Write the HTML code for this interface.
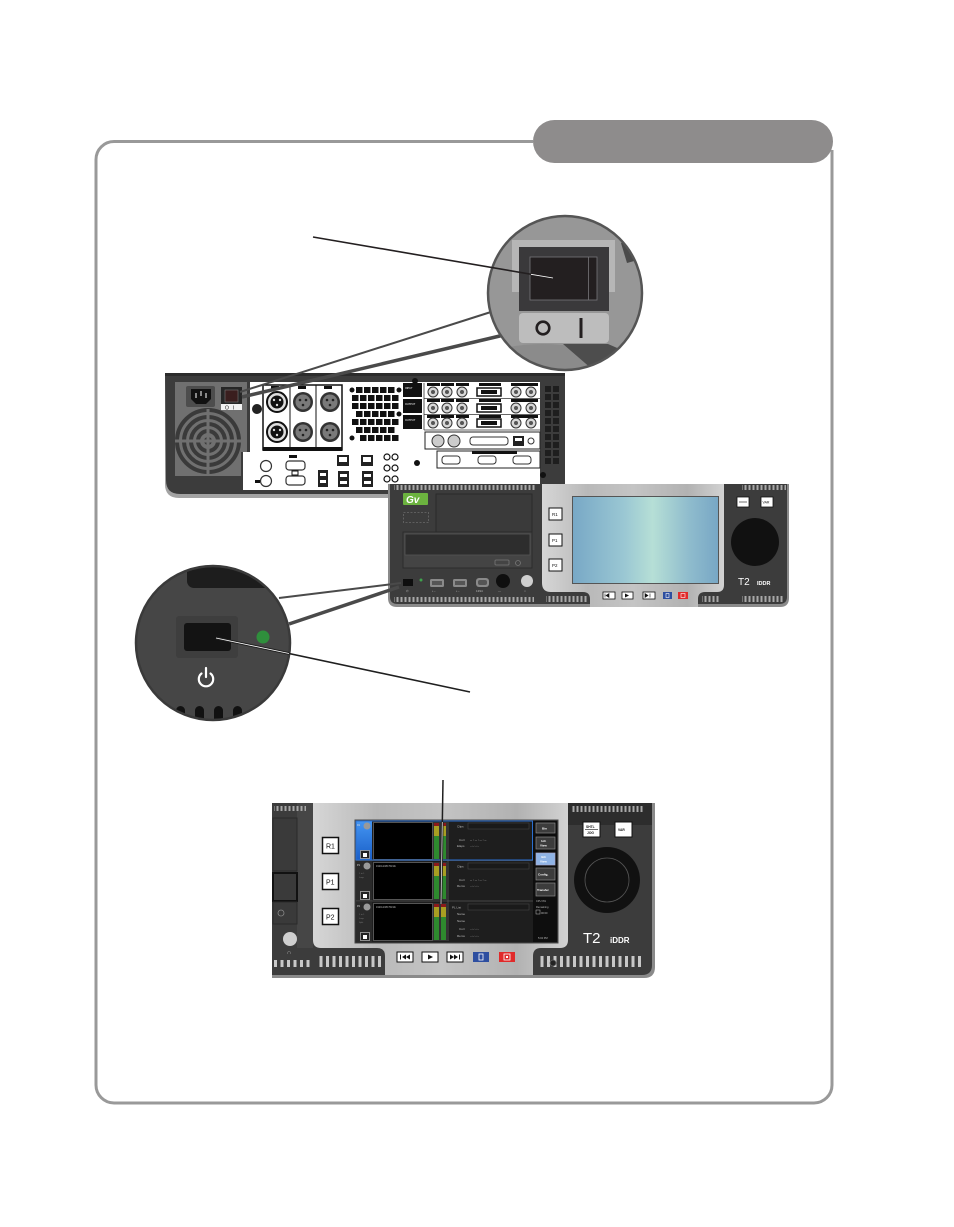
<!DOCTYPE html>
<html><head><meta charset="utf-8"><style>
html,body{margin:0;padding:0;background:#fff;width:954px;height:1227px;overflow:hidden}
svg{display:block}
text{font-family:"Liberation Sans",sans-serif}
</style></head><body>
<svg width="954" height="1227" viewBox="0 0 954 1227" xmlns="http://www.w3.org/2000/svg">
<defs>
 <pattern id="v1" width="4" height="10" patternUnits="userSpaceOnUse"><rect x="0.5" width="2" height="10" fill="#a8a8a8"/></pattern>
 <pattern id="v2" width="6.5" height="20" patternUnits="userSpaceOnUse"><rect x="1" width="3" height="20" fill="#c8c8c8"/></pattern>
 <linearGradient id="silver" x1="0" x2="1" y1="0" y2="0">
  <stop offset="0" stop-color="#d6d6d6"/><stop offset="0.25" stop-color="#b9b9b9"/><stop offset="0.5" stop-color="#c4c4c4"/><stop offset="0.8" stop-color="#b2b2b2"/><stop offset="1" stop-color="#d2d2d2"/>
 </linearGradient>
 <linearGradient id="scr" x1="0" x2="1" y1="0" y2="0">
  <stop offset="0" stop-color="#78a8c6"/><stop offset="0.35" stop-color="#9ac7d3"/><stop offset="0.55" stop-color="#b6dfd6"/><stop offset="0.8" stop-color="#8fbccd"/><stop offset="1" stop-color="#78a7c5"/>
 </linearGradient>
 <linearGradient id="blue" x1="0" x2="0" y1="0" y2="1">
  <stop offset="0" stop-color="#4495f2"/><stop offset="1" stop-color="#1a5fc8"/>
 </linearGradient>
 <clipPath id="c1"><circle cx="565" cy="293" r="76.5"/></clipPath>
 <clipPath id="c2"><circle cx="213" cy="643" r="76"/></clipPath>
</defs>

<!-- Frame -->
<path d="M533 141.5 H114 A18 18 0 0 0 96 159.5 V1085 A18 18 0 0 0 114 1103 H814 A18 18 0 0 0 832 1085 V150" fill="none" stroke="#999" stroke-width="3"/>
<rect x="533" y="120" width="300" height="43" rx="21.5" fill="#8e8c8c"/>

<!-- ============ REAR PANEL ============ -->
<path d="M165 373 H565 V498 H179 Q165 498 165 484 Z" fill="#a3a3a3"/>
<path d="M165 373 H565 V494 H180 Q166 494 166 480 Z" fill="#3c3c3c"/>
<rect x="165" y="373" width="400" height="3" fill="#2c2c2c"/>
<!-- PSU plate -->
<path d="M175 382 H247 V452 H241 V476 H175 Z" fill="#707070"/>
<g fill="none" stroke="#3a3a3a" stroke-width="4">
 <circle cx="208" cy="441" r="31"/><circle cx="208" cy="441" r="24"/><circle cx="208" cy="441" r="17"/><circle cx="208" cy="441" r="10"/>
</g>
<circle cx="208" cy="441" r="4" fill="#3a3a3a"/>
<g stroke="#707070" stroke-width="3"><line x1="175" y1="441" x2="241" y2="441"/><line x1="208" y1="409" x2="208" y2="474"/></g>
<rect x="186" y="386" width="29" height="21" rx="2" fill="#4d4d4d"/>
<path d="M191 389 H211 V399 L206 404 H196 L191 399 Z" fill="#111"/>
<g fill="#888"><rect x="195" y="393" width="2" height="5"/><rect x="200" y="391" width="2" height="5"/><rect x="205" y="393" width="2" height="5"/></g>
<rect x="221" y="387" width="21" height="17" fill="#262626"/>
<rect x="225" y="390" width="13" height="12" fill="#3a1e1e" stroke="#777" stroke-width="0.6"/>
<rect x="221" y="404" width="21" height="6" fill="#f2f2f2"/>
<text x="225" y="409.5" font-size="5" fill="#111">O</text><text x="233" y="409.5" font-size="5" fill="#111">I</text>
<!-- white area -->
<path d="M252 382 H540 V490 H243 V452 H250 V382 Z" fill="#fff"/>
<circle cx="257" cy="409" r="5" fill="#222"/>
<!-- audio block -->
<rect x="263" y="385" width="79" height="65" fill="#fff" stroke="#111" stroke-width="1.5"/>
<line x1="290" y1="385" x2="290" y2="450" stroke="#111"/><line x1="316" y1="385" x2="316" y2="450" stroke="#111"/>
<rect x="263" y="447" width="79" height="4" fill="#111"/>
<g fill="#111"><rect x="271" y="386" width="8" height="3"/><rect x="298" y="386" width="8" height="3"/><rect x="324" y="386" width="8" height="3"/></g>
<g>
 <circle cx="277" cy="402" r="10" fill="#ddd" stroke="#111" stroke-width="2"/><circle cx="277" cy="402" r="6.5" fill="#111"/>
 <circle cx="277" cy="432" r="10" fill="#ddd" stroke="#111" stroke-width="2"/><circle cx="277" cy="432" r="6.5" fill="#111"/>
 <circle cx="303" cy="402" r="10" fill="#333"/><circle cx="303" cy="402" r="7.5" fill="#7a7a7a"/>
 <circle cx="303" cy="432" r="10" fill="#333"/><circle cx="303" cy="432" r="7.5" fill="#7a7a7a"/>
 <circle cx="330" cy="402" r="10" fill="#333"/><circle cx="330" cy="402" r="7.5" fill="#7a7a7a"/>
 <circle cx="330" cy="432" r="10" fill="#333"/><circle cx="330" cy="432" r="7.5" fill="#7a7a7a"/>
 <g fill="#222"><circle cx="300" cy="400" r="1.3"/><circle cx="306" cy="400" r="1.3"/><circle cx="303" cy="405" r="1.3"/><circle cx="300" cy="430" r="1.3"/><circle cx="306" cy="430" r="1.3"/><circle cx="303" cy="435" r="1.3"/><circle cx="327" cy="400" r="1.3"/><circle cx="333" cy="400" r="1.3"/><circle cx="330" cy="405" r="1.3"/><circle cx="327" cy="430" r="1.3"/><circle cx="333" cy="430" r="1.3"/><circle cx="330" cy="435" r="1.3"/></g>
 <g fill="#ddd"><circle cx="274" cy="400" r="1.2"/><circle cx="280" cy="400" r="1.2"/><circle cx="277" cy="405" r="1.2"/><circle cx="274" cy="430" r="1.2"/><circle cx="280" cy="430" r="1.2"/><circle cx="277" cy="435" r="1.2"/></g>
</g>
<!-- vent grid -->
<g fill="#111">
 <rect x="356" y="387" width="6.5" height="6"/><rect x="364" y="387" width="6.5" height="6"/><rect x="372" y="387" width="6.5" height="6"/><rect x="380" y="387" width="6.5" height="6"/><rect x="388" y="387" width="6.5" height="6"/>
 <rect x="352" y="395" width="6.5" height="6"/><rect x="360" y="395" width="6.5" height="6"/><rect x="368" y="395" width="6.5" height="6"/><rect x="376" y="395" width="6.5" height="6"/><rect x="384" y="395" width="6.5" height="6"/><rect x="392" y="395" width="6.5" height="6"/>
 <rect x="352" y="403" width="6.5" height="6"/><rect x="360" y="403" width="6.5" height="6"/><rect x="368" y="403" width="6.5" height="6"/><rect x="376" y="403" width="6.5" height="6"/><rect x="384" y="403" width="6.5" height="6"/><rect x="392" y="403" width="6.5" height="6"/>
 <rect x="356" y="411" width="6.5" height="6"/><rect x="364" y="411" width="6.5" height="6"/><rect x="372" y="411" width="6.5" height="6"/><rect x="380" y="411" width="6.5" height="6"/><rect x="388" y="411" width="6.5" height="6"/>
 <rect x="352" y="419" width="6.5" height="6"/><rect x="360" y="419" width="6.5" height="6"/><rect x="368" y="419" width="6.5" height="6"/><rect x="376" y="419" width="6.5" height="6"/><rect x="384" y="419" width="6.5" height="6"/><rect x="392" y="419" width="6.5" height="6"/>
 <rect x="356" y="427" width="6.5" height="6"/><rect x="364" y="427" width="6.5" height="6"/><rect x="372" y="427" width="6.5" height="6"/><rect x="380" y="427" width="6.5" height="6"/><rect x="388" y="427" width="6.5" height="6"/>
 <rect x="360" y="435" width="6.5" height="6"/><rect x="368" y="435" width="6.5" height="6"/><rect x="376" y="435" width="6.5" height="6"/><rect x="384" y="435" width="6.5" height="6"/><rect x="392" y="435" width="6.5" height="6"/>
 <circle cx="352" cy="390" r="2.5"/><circle cx="399" cy="390" r="2.5"/><circle cx="352" cy="438" r="2.5"/><circle cx="399" cy="414" r="2.5"/>
 <circle cx="415" cy="381" r="3"/><circle cx="417" cy="463" r="3"/><circle cx="543" cy="475" r="3"/>
</g>
<!-- IO section -->
<g fill="#111">
 <rect x="403" y="383" width="19" height="14"/><rect x="403" y="399" width="19" height="14"/><rect x="403" y="415" width="19" height="14"/>
 <rect x="427" y="383" width="13" height="3"/><rect x="441" y="383" width="13" height="3"/><rect x="456" y="383" width="13" height="3"/><rect x="479" y="383" width="22" height="3"/><rect x="511" y="383" width="27" height="3"/>
 <rect x="427" y="399" width="13" height="3"/><rect x="441" y="399" width="13" height="3"/><rect x="456" y="399" width="13" height="3"/><rect x="479" y="399" width="22" height="3"/><rect x="511" y="399" width="27" height="3"/>
 <rect x="427" y="415" width="13" height="3"/><rect x="441" y="415" width="13" height="3"/><rect x="456" y="415" width="13" height="3"/><rect x="479" y="415" width="22" height="3"/><rect x="511" y="415" width="27" height="3"/>
</g>
<g fill="#fff" font-size="2.5"><text x="405" y="389">INPUT</text><text x="405" y="405">OUTPUT</text><text x="405" y="421">OUTPUT</text></g>
<g stroke="#333" stroke-width="1" fill="#d8d8d8">
 <circle cx="433" cy="392" r="5"/><circle cx="447" cy="392" r="5"/><circle cx="462" cy="392" r="5"/><circle cx="516" cy="392" r="5"/><circle cx="531" cy="392" r="5"/>
 <circle cx="433" cy="408" r="5"/><circle cx="447" cy="408" r="5"/><circle cx="462" cy="408" r="5"/><circle cx="516" cy="408" r="5"/><circle cx="531" cy="408" r="5"/>
 <circle cx="433" cy="423" r="5"/><circle cx="447" cy="423" r="5"/><circle cx="462" cy="423" r="5"/><circle cx="516" cy="423" r="5"/><circle cx="531" cy="423" r="5"/>
</g>
<g fill="#555">
 <circle cx="433" cy="392" r="2"/><circle cx="447" cy="392" r="2"/><circle cx="462" cy="392" r="2"/><circle cx="516" cy="392" r="2"/><circle cx="531" cy="392" r="2"/>
 <circle cx="433" cy="408" r="2"/><circle cx="447" cy="408" r="2"/><circle cx="462" cy="408" r="2"/><circle cx="516" cy="408" r="2"/><circle cx="531" cy="408" r="2"/>
 <circle cx="433" cy="423" r="2"/><circle cx="447" cy="423" r="2"/><circle cx="462" cy="423" r="2"/><circle cx="516" cy="423" r="2"/><circle cx="531" cy="423" r="2"/>
</g>
<g fill="#fff" stroke="#111" stroke-width="1.5">
 <rect x="477" y="388" width="24" height="8"/><rect x="477" y="404" width="24" height="8"/><rect x="477" y="419" width="24" height="8"/>
</g>
<g fill="#111"><rect x="481" y="390" width="16" height="4"/><rect x="481" y="406" width="16" height="4"/><rect x="481" y="421" width="16" height="4"/></g>
<g stroke="#333" stroke-width="0.8"><line x1="424" y1="398.5" x2="540" y2="398.5"/><line x1="424" y1="414.5" x2="540" y2="414.5"/><line x1="424" y1="430" x2="540" y2="430"/><line x1="424" y1="383" x2="424" y2="430"/></g>
<rect x="425" y="432" width="115" height="17" fill="#fff" stroke="#222"/>
<g stroke="#333" fill="#ccc"><circle cx="438" cy="441" r="6"/><circle cx="454" cy="441" r="6"/></g>
<rect x="470" y="437" width="38" height="8" rx="3" fill="#fff" stroke="#333"/>
<rect x="513" y="436" width="11" height="10" fill="#222"/><rect x="515" y="438" width="7" height="3" fill="#fff"/>
<circle cx="531" cy="441" r="3" fill="#fff" stroke="#333"/>
<rect x="437" y="451" width="103" height="17" fill="#fff" stroke="#222"/>
<rect x="472" y="451" width="45" height="3" fill="#111"/>
<g fill="#fff" stroke="#333"><rect x="442" y="456" width="18" height="8" rx="3"/><rect x="478" y="456" width="18" height="8" rx="3"/><rect x="513" y="456" width="18" height="8" rx="3"/></g>
<!-- bottom left connectors -->
<g fill="#fff" stroke="#333" stroke-width="1.2"><circle cx="266" cy="466" r="5.5"/><circle cx="266" cy="481" r="5.5"/><rect x="286" y="461" width="19" height="9" rx="3"/><rect x="286" y="476" width="19" height="9" rx="3"/></g>
<g fill="#111"><rect x="255" y="480" width="5" height="3"/><rect x="289" y="455" width="8" height="3"/><rect x="292" y="471" width="6" height="4" fill="none" stroke="#111"/></g>
<rect x="318" y="470" width="10" height="17" fill="#222"/><rect x="320" y="473" width="6" height="3" fill="#fff"/><rect x="320" y="480" width="6" height="3" fill="#fff"/>
<g fill="#222"><rect x="337" y="455" width="12" height="11"/><rect x="361" y="455" width="12" height="11"/><rect x="338" y="471" width="11" height="16"/><rect x="362" y="471" width="11" height="16"/></g>
<g fill="#fff"><rect x="339" y="457" width="8" height="5"/><rect x="363" y="457" width="8" height="5"/><rect x="340" y="474" width="7" height="3"/><rect x="340" y="481" width="7" height="3"/><rect x="364" y="474" width="7" height="3"/><rect x="364" y="481" width="7" height="3"/></g>
<g fill="#fff" stroke="#111" stroke-width="1.2"><circle cx="387" cy="457" r="3"/><circle cx="395" cy="457" r="3"/><circle cx="387" cy="468" r="3"/><circle cx="395" cy="468" r="3"/><circle cx="387" cy="479" r="3"/><circle cx="395" cy="479" r="3"/></g>
<!-- right strip squares -->
<g fill="#1e1e1e">
 <rect x="545" y="386" width="6" height="6"/><rect x="553" y="386" width="6" height="6"/><rect x="545" y="394" width="6" height="6"/><rect x="553" y="394" width="6" height="6"/><rect x="545" y="402" width="6" height="6"/><rect x="553" y="402" width="6" height="6"/><rect x="545" y="410" width="6" height="6"/><rect x="553" y="410" width="6" height="6"/><rect x="545" y="418" width="6" height="6"/><rect x="553" y="418" width="6" height="6"/><rect x="545" y="426" width="6" height="6"/><rect x="553" y="426" width="6" height="6"/><rect x="545" y="434" width="6" height="6"/><rect x="553" y="434" width="6" height="6"/><rect x="545" y="442" width="6" height="6"/><rect x="553" y="442" width="6" height="6"/><rect x="545" y="450" width="6" height="6"/><rect x="553" y="450" width="6" height="6"/><rect x="545" y="458" width="6" height="6"/><rect x="553" y="458" width="6" height="6"/>
</g>

<!-- lines from rear switch to top circle -->
<line x1="240" y1="392" x2="494" y2="311" stroke="#4a4a4a" stroke-width="2"/>
<line x1="242" y1="397" x2="504" y2="335" stroke="#4a4a4a" stroke-width="3.5"/>

<!-- ============ TOP ZOOM CIRCLE ============ -->
<circle cx="565" cy="293" r="77" fill="#979797"/>
<g clip-path="url(#c1)">
 <path d="M486 352 Q530 340 570 346 L640 362 L640 380 L486 380 Z" fill="#8b8b8b"/>
 <path d="M563 344 L608 344 L645 360 L640 380 L600 376 Z" fill="#4d4d4d"/>
 <path d="M621 243 L632 238 L645 258 L627 263 Z" fill="#4a4a4a"/>
 <rect x="512" y="240" width="103" height="52" fill="#b6b6b6"/>
 <rect x="519" y="247" width="90" height="64" fill="#3a393b"/>
 <rect x="530" y="257" width="67" height="43" fill="#231f20" stroke="#77767a" stroke-width="0.8"/>
 <line x1="588.5" y1="257" x2="588.5" y2="300" stroke="#77767a" stroke-width="0.8"/>
 <rect x="519" y="313" width="90" height="30" rx="4" fill="#bdbdbd"/>
 <circle cx="543" cy="328" r="6.3" fill="none" stroke="#231f20" stroke-width="2.6"/>
 <rect x="579.5" y="318" width="3" height="20" fill="#231f20"/>
</g>
<circle cx="565" cy="293" r="77" fill="none" stroke="#555" stroke-width="2.5"/>
<!-- top leader -->
<line x1="313" y1="237" x2="553" y2="278" stroke="#231f20" stroke-width="1.6"/>
<line x1="531" y1="274.3" x2="553" y2="278" stroke="#231f20" stroke-width="2.6"/>
<line x1="531" y1="274.3" x2="553" y2="278" stroke="#fff" stroke-width="0.8"/>

<!-- ============ FRONT PANEL (TOP) ============ -->
<path d="M388 484 H789 V598 Q789 607 780 607 H397 Q388 607 388 598 Z" fill="#8a8a8a"/>
<path d="M390 484 H787 V597 Q787 604 779 604 H398 Q390 604 390 597 Z" fill="#3c3c3c"/>
<path d="M542 484 H724 V585 Q724 592 717 592 H705 Q698 592 698 599 V607 H590 V599 Q590 592 583 592 H551 Q542 592 542 583 Z" fill="url(#silver)"/>
<rect x="394" y="485" width="142" height="5" fill="url(#v1)"/>
<rect x="742" y="485" width="44" height="5" fill="url(#v1)"/>
<rect x="394" y="597" width="140" height="5" fill="url(#v1)"/>
<rect x="546" y="596" width="42" height="6" fill="url(#v1)"/>
<rect x="702" y="596" width="18" height="6" fill="url(#v1)"/>
<rect x="742" y="596" width="42" height="6" fill="url(#v1)"/>
<!-- left items -->
<rect x="403" y="493" width="25" height="12" rx="1" fill="#6cb33f"/>
<text x="406" y="503" font-size="10" font-style="italic" font-weight="bold" fill="#fff" font-family="Liberation Serif, serif">Gv</text>
<rect x="403.5" y="512.5" width="25" height="10" fill="none" stroke="#6a6a6a" stroke-dasharray="2 1.5" stroke-width="0.8"/>
<rect x="436" y="494" width="96" height="38" fill="#3a3a3a" stroke="#2a2a2a"/>
<rect x="403" y="532" width="129" height="36" fill="#444" stroke="#2b2b2b"/>
<rect x="405" y="534" width="125" height="21" fill="#2d2d2d" stroke="#555" stroke-width="0.8"/>
<rect x="495" y="560" width="14" height="5" rx="1" fill="none" stroke="#777" stroke-width="0.8"/>
<circle cx="518" cy="563" r="2.5" fill="none" stroke="#777" stroke-width="0.8"/>
<rect x="403" y="579" width="10" height="7" fill="#0e0e0e"/>
<circle cx="421" cy="580" r="1.5" fill="#3fa34d"/>
<g fill="#8a8a8a"><rect x="430" y="579" width="14" height="8" rx="1.5"/><rect x="453" y="579" width="14" height="8" rx="1.5"/><rect x="476" y="578" width="13" height="9" rx="3"/></g>
<g fill="#555"><rect x="432" y="581" width="10" height="4"/><rect x="455" y="581" width="10" height="4"/><rect x="478" y="580" width="9" height="5" rx="2"/></g>
<circle cx="503" cy="581" r="7" fill="#0f0f0f"/>
<circle cx="527" cy="581" r="6" fill="#cfcfcf"/>
<g fill="#bbb" font-size="3"><text x="406" y="592">&#x23FB;</text><text x="432" y="592">&#x2022;&#x2192;</text><text x="456" y="592">&#x2022;&#x2192;</text><text x="476" y="592">1394</text><text x="498" y="592">&#x2014;</text><text x="524" y="592">&#x2229;</text></g>
<!-- R1 P1 P2 -->
<g fill="#fff" stroke="#111" stroke-width="1"><rect x="549" y="508" width="13" height="12"/><rect x="549" y="534" width="13" height="12"/><rect x="549" y="559" width="13" height="12"/></g>
<g fill="#111" font-size="4.5"><text x="552" y="516">R1</text><text x="552" y="542">P1</text><text x="552" y="567">P2</text></g>
<!-- screen -->
<rect x="572" y="496" width="147" height="88" fill="#555"/>
<rect x="573" y="497" width="145" height="86" fill="url(#scr)"/>
<!-- transport -->
<g fill="#fff" stroke="#111" stroke-width="0.8"><rect x="603" y="592" width="12" height="7"/><rect x="622" y="592" width="11" height="7"/><rect x="643" y="592" width="12" height="7"/></g>
<rect x="663" y="592" width="9" height="7" fill="#2d4ea0"/><rect x="666" y="593.5" width="3" height="4" fill="none" stroke="#fff" stroke-width="0.6"/>
<rect x="678" y="592" width="10" height="7" fill="#e02a2a"/><rect x="681" y="593.5" width="4" height="4" fill="none" stroke="#fff" stroke-width="0.6"/>
<g fill="#111"><path d="M605 593.5 V597.5 M606 595.5 L609 593.5 V597.5 Z" stroke="#111" stroke-width="0.6"/><path d="M625 593.5 L629 595.5 L625 597.5 Z"/><path d="M645 593.5 L648 595.5 L645 597.5 Z M650 593.5 V597.5" stroke="#111" stroke-width="0.6"/></g>
<!-- right -->
<g fill="#fff" stroke="#111" stroke-width="0.8"><rect x="737" y="497" width="12" height="10"/><rect x="761" y="497" width="12" height="10"/></g>
<line x1="739" y1="502" x2="747" y2="502" stroke="#111" stroke-width="0.6"/>
<text x="762.5" y="503.5" font-size="3.5" fill="#111">VAR</text>
<circle cx="755" cy="542" r="24" fill="#111"/>
<text x="738" y="585" font-size="10" fill="#fff">T2</text>
<text x="757" y="585" font-size="5.5" font-weight="bold" fill="#fff">IDDR</text>

<!-- ============ BOTTOM-LEFT ZOOM CIRCLE ============ -->
<circle cx="213" cy="643" r="77" fill="#464646"/>
<g clip-path="url(#c2)">
 <rect x="187" y="560" width="120" height="28" rx="7" fill="#1d1d1d"/>
 <rect x="176" y="616" width="62" height="42" rx="3" fill="#3e3e3e"/>
 <rect x="184" y="623" width="47" height="28" rx="3" fill="#131313"/>
 <circle cx="263" cy="637" r="6.5" fill="#2f8f3c"/>
 <path d="M201.5 673.5 A7.2 7.2 0 1 0 210.5 673.5" fill="none" stroke="#fff" stroke-width="2.2" stroke-linecap="round"/>
 <line x1="206" y1="668" x2="206" y2="677" stroke="#fff" stroke-width="2.2" stroke-linecap="round"/>
 <g fill="#111"><rect x="176" y="706" width="9" height="25" rx="4.5"/><rect x="195" y="706" width="9" height="25" rx="4.5"/><rect x="214" y="706" width="9" height="25" rx="4.5"/><rect x="233" y="706" width="9" height="25" rx="4.5"/></g>
</g>
<circle cx="213" cy="643" r="77" fill="none" stroke="#3a3a3a" stroke-width="2.5"/>
<line x1="279" y1="598" x2="401" y2="583" stroke="#4a4a4a" stroke-width="2"/>
<line x1="289" y1="624" x2="399" y2="587" stroke="#4a4a4a" stroke-width="3.5"/>
<line x1="216" y1="638" x2="470" y2="692" stroke="#1f1f1f" stroke-width="1.6"/>
<line x1="216" y1="638" x2="289" y2="653.5" stroke="#1f1f1f" stroke-width="2.8"/>
<line x1="216" y1="638" x2="289" y2="653.5" stroke="#fff" stroke-width="0.8"/>

<!-- ============ BOTTOM FRONT PANEL ============ -->
<path d="M272 803 H655 V967 Q655 978 644 978 H272 Z" fill="#8a8a8a"/>
<path d="M272 803 H652 V965 Q652 975 642 975 H272 Z" fill="#3c3c3c"/>
<rect x="297" y="803" width="16" height="145" fill="#464646"/>
<rect x="568" y="803" width="84" height="22" fill="#2d2d2d"/>
<path d="M313 803 H568 V940 Q568 948 560 948 H541 Q533 948 533 956 V975 H385 V956 Q385 948 377 948 H321 Q313 948 313 940 Z" fill="url(#silver)"/>
<rect x="274" y="806" width="32" height="5" fill="url(#v1)"/>
<rect x="572" y="806" width="72" height="6" fill="url(#v1)"/>
<rect x="273" y="960" width="38" height="7" fill="url(#v2)"/>
<rect x="318" y="956" width="63" height="11" fill="url(#v2)"/>
<rect x="538" y="956" width="105" height="11" fill="url(#v2)"/>
<circle cx="553" cy="963" r="3" fill="#222" stroke="#666" stroke-width="0.8"/>
<!-- left panels -->
<rect x="273" y="818" width="24" height="53" fill="#3a3a3a" stroke="#2a2a2a"/>
<rect x="273" y="873" width="24" height="28" fill="#3a3a3a" stroke="#111" stroke-width="2"/>
<rect x="273" y="902" width="24" height="22" fill="#3a3a3a" stroke="#2a2a2a"/>
<circle cx="281" cy="913" r="3" fill="none" stroke="#888" stroke-width="0.8"/>
<circle cx="290" cy="939" r="7" fill="#cfcfcf"/>
<text x="287" y="954" font-size="6" fill="#bbb">&#x2229;</text>
<!-- R1 P1 P2 -->
<g fill="#fff" stroke="#111" stroke-width="1.5"><rect x="322.5" y="837.5" width="16" height="16"/><rect x="322.5" y="873.5" width="16" height="16"/><rect x="322.5" y="908.5" width="16" height="16"/></g>
<g fill="#111" font-size="7"><text x="326" y="848.5">R1</text><text x="326" y="884.5">P1</text><text x="326" y="919.5">P2</text></g>
<!-- screen -->
<rect x="355" y="820" width="203" height="123" fill="#1e1e1e" stroke="#4a4a4a"/>
<rect x="533" y="821" width="24" height="121" fill="#0e0e0e"/>
<!-- rows -->
<rect x="356" y="821" width="16" height="39" fill="url(#blue)"/>
<rect x="356" y="861" width="16" height="40" fill="#2a2a2a"/>
<rect x="356" y="902" width="16" height="40" fill="#2a2a2a"/>
<g fill="#999"><circle cx="367" cy="826" r="3.5"/><circle cx="367" cy="866" r="3.5"/><circle cx="367" cy="907" r="3.5"/></g>
<g fill="#ddd" font-size="2.5"><text x="357" y="826">R1</text><text x="357" y="866">P1</text><text x="357" y="907">P2</text></g>
<g fill="#777" font-size="2.2"><text x="359" y="874">1 to 1</text><text x="359" y="878">Loop</text><text x="359" y="915">1 to 1</text><text x="359" y="919">Loop</text><text x="359" y="923">Split</text></g>
<g fill="#222" stroke="#aaa" stroke-width="0.8"><rect x="360.5" y="850.5" width="9" height="8"/><rect x="360.5" y="891.5" width="9" height="8"/><rect x="360.5" y="932.5" width="9" height="8"/></g>
<g fill="#fff"><rect x="363" y="853" width="4" height="4"/><rect x="363" y="894" width="4" height="4"/><rect x="363" y="935" width="4" height="4"/></g>
<g fill="#000" stroke="#555" stroke-width="1"><rect x="373.5" y="822.5" width="59" height="37"/><rect x="373.5" y="862.5" width="59" height="37"/><rect x="373.5" y="903.5" width="59" height="37"/></g>
<g fill="#bbb" font-size="2.5"><text x="376" y="867">1920x1080 59.94i</text><text x="376" y="908">1920x1080 59.94i</text></g>
<!-- meters -->
<g>
 <rect x="433" y="822" width="14" height="38" fill="#333"/><rect x="433" y="862" width="14" height="38" fill="#333"/><rect x="433" y="903" width="14" height="38" fill="#333"/>
 <g fill="#8b1a1a"><rect x="434" y="823" width="5" height="3"/><rect x="441" y="823" width="5" height="3"/><rect x="434" y="863" width="5" height="3"/><rect x="441" y="863" width="5" height="3"/><rect x="434" y="904" width="5" height="3"/><rect x="441" y="904" width="5" height="3"/></g>
 <g fill="#a89e22"><rect x="434" y="826" width="5" height="10"/><rect x="441" y="826" width="5" height="10"/><rect x="434" y="866" width="5" height="10"/><rect x="441" y="866" width="5" height="10"/><rect x="434" y="907" width="5" height="10"/><rect x="441" y="907" width="5" height="10"/></g>
 <g fill="#2e8a2e"><rect x="434" y="836" width="5" height="23"/><rect x="441" y="836" width="5" height="23"/><rect x="434" y="876" width="5" height="23"/><rect x="441" y="876" width="5" height="23"/><rect x="434" y="917" width="5" height="23"/><rect x="441" y="917" width="5" height="23"/></g>
</g>
<!-- info -->
<g fill="#1a1a1a" stroke="#444" stroke-width="0.6"><rect x="468" y="823" width="61" height="6"/><rect x="468" y="863" width="61" height="6"/><rect x="468" y="904" width="61" height="6"/></g>
<g fill="#bbb" font-size="3"><text x="457" y="827.5">Clips</text><text x="459" y="841">Curr</text><text x="457" y="847">Elaps</text>
<text x="457" y="867.5">Clips</text><text x="459" y="881">Curr</text><text x="457" y="887">Rems</text>
<text x="452" y="908.5">PL List</text><text x="457" y="915">Name</text><text x="457" y="922">Name</text><text x="459" y="930">Curr</text><text x="457" y="937">Rems</text></g>
<g fill="#ccc" font-size="3.2"><text x="470" y="841">-- : -- : -- : --</text><text x="470" y="881">-- : -- : -- : --</text></g>
<g fill="#aaa" font-size="2.6"><text x="470" y="847">--:--:--:--</text><text x="470" y="887">--:--:--:--</text><text x="470" y="930">--:--:--:--</text><text x="470" y="937">--:--:--:--</text></g>
<g stroke="#555" stroke-width="0.8"><line x1="448" y1="822" x2="448" y2="941"/><line x1="356" y1="860.5" x2="533" y2="860.5"/><line x1="356" y1="901" x2="533" y2="901"/></g>
<rect x="356" y="821" width="176.5" height="39" fill="none" stroke="#2a6fd0" stroke-width="1"/>
<!-- right buttons -->
<g fill="#3c3c3c" stroke="#888" stroke-width="0.7"><rect x="536" y="823" width="19" height="10"/><rect x="536" y="837" width="19" height="12"/><rect x="536" y="868" width="19" height="12"/><rect x="536" y="883" width="19" height="13"/></g>
<rect x="536" y="853" width="19" height="12" fill="#8fb4e6" stroke="#aac" stroke-width="0.7"/>
<g fill="#fff" font-size="3" font-weight="bold"><text x="542" y="829.5">Bin</text><text x="541" y="842">1ch</text><text x="540" y="846.5">View</text><text x="541" y="858">3ch</text><text x="540" y="862.5">View</text><text x="538" y="875.5">Config.</text><text x="537" y="891">Transfer</text></g>
<g fill="#bbb" font-size="2.6"><text x="536" y="902">CPU 0%</text><text x="536" y="908">Remaining</text><text x="541" y="914">00:00</text><text x="538" y="939">5:02 PM</text></g>
<rect x="536" y="910" width="4" height="4" fill="none" stroke="#bbb" stroke-width="0.5"/>
<!-- transport -->
<g fill="#fff" stroke="#111" stroke-width="1"><rect x="397" y="952" width="16" height="10"/><rect x="422" y="952" width="16" height="10"/><rect x="447" y="952" width="16" height="10"/></g>
<g fill="#111"><rect x="400" y="954.5" width="1" height="5"/><path d="M402 957 L406 954.5 V959.5 Z M406 957 L410 954.5 V959.5 Z"/><path d="M428 954.5 L433 957 L428 959.5 Z"/><path d="M450 954.5 L454 957 L450 959.5 Z M454 954.5 L458 957 L454 959.5 Z"/><rect x="459" y="954.5" width="1" height="5"/></g>
<rect x="473" y="952" width="16" height="10" fill="#2d4ea0"/><rect x="479" y="954" width="4" height="6" fill="none" stroke="#fff" stroke-width="0.8"/>
<rect x="499" y="952" width="16" height="10" fill="#e02a2a"/><rect x="504" y="954" width="6" height="6" fill="none" stroke="#fff" stroke-width="0.8"/><rect x="506" y="956" width="2" height="2" fill="#fff"/>
<!-- right section -->
<g fill="#fff" stroke="#111" stroke-width="1"><rect x="583" y="822" width="17" height="15"/><rect x="615" y="822" width="17" height="15"/></g>
<line x1="585" y1="829.5" x2="598" y2="829.5" stroke="#111" stroke-width="0.6"/>
<g fill="#111" font-size="3.3" font-weight="bold"><text x="586" y="828">SHTL</text><text x="587" y="834">JOG</text><text x="618" y="831">VAR</text></g>
<circle cx="607" cy="880" r="33" fill="#111"/>
<circle cx="607" cy="880" r="22" fill="none" stroke="#555" stroke-width="0.8"/>
<text x="583" y="943" font-size="15" fill="#fff">T2</text>
<text x="610" y="943" font-size="8" font-weight="bold" fill="#fff">iDDR</text>

<!-- bottom vertical leader -->
<line x1="443" y1="780" x2="441" y2="904" stroke="#1f1f1f" stroke-width="1.5"/>
<line x1="442.3" y1="822" x2="441" y2="904" stroke="#1f1f1f" stroke-width="2.6"/>
<line x1="442.3" y1="822" x2="441" y2="904" stroke="#ddd" stroke-width="0.8"/>
</svg>
</body></html>
